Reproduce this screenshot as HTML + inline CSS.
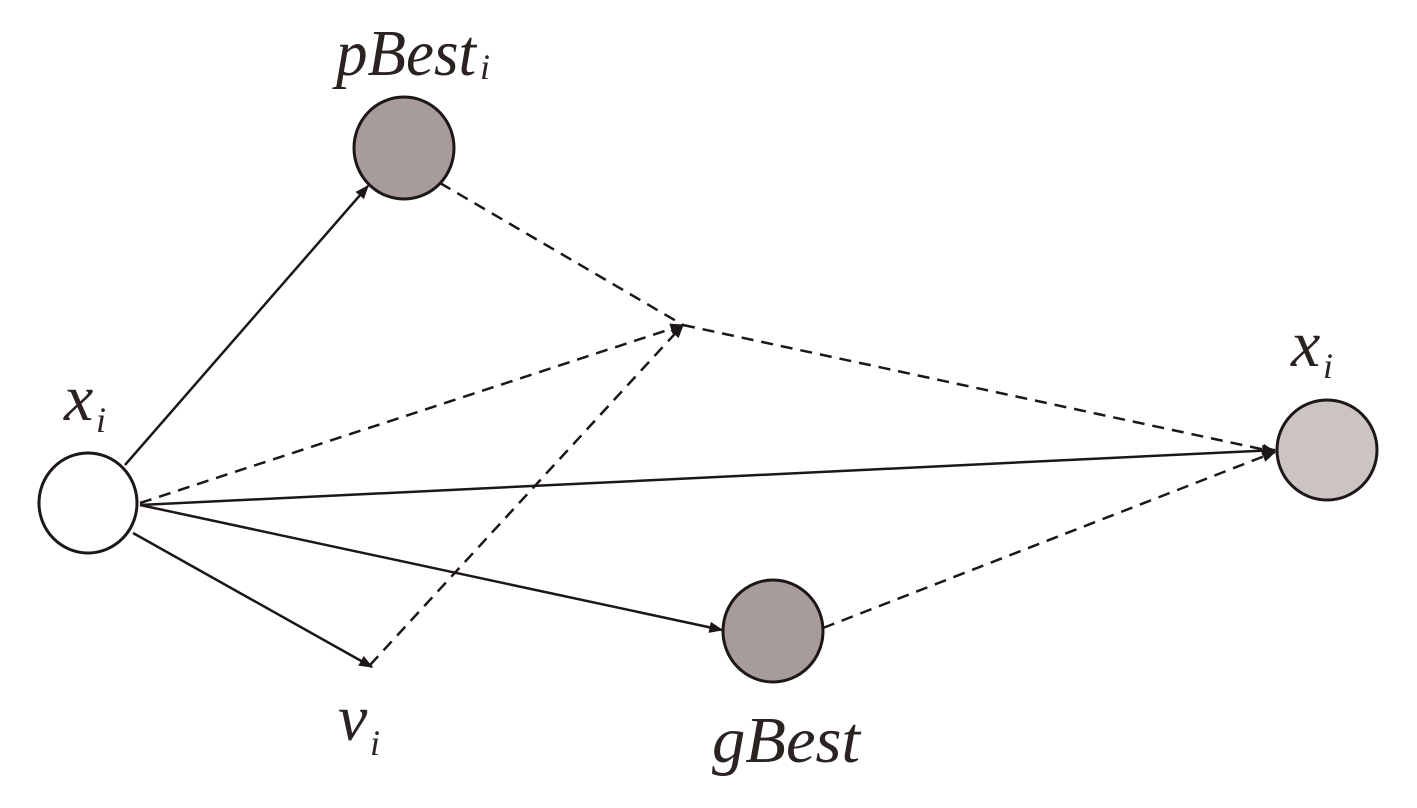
<!DOCTYPE html>
<html><head><style>html,body{margin:0;padding:0;background:#fff}svg{display:block}</style></head>
<body>
<svg width="1417" height="808" viewBox="0 0 1417 808" xmlns="http://www.w3.org/2000/svg">
<defs>
<marker id="b" viewBox="0 0 10 10" refX="9" refY="5" markerWidth="16" markerHeight="14" markerUnits="userSpaceOnUse" orient="auto">
<path d="M0,1 L10,5 L0,9 z" fill="#1d1817"/></marker>
</defs>
<g stroke="#1d1817" stroke-width="2.5" fill="none">
<line x1="125" y1="465" x2="368" y2="186" marker-end="url(#b)"/>
<line x1="140" y1="505" x2="1275" y2="450" marker-end="url(#b)"/>
<line x1="140" y1="505" x2="722" y2="630" marker-end="url(#b)"/>
<line x1="133" y1="533" x2="372" y2="667" marker-end="url(#b)"/>
<g stroke-dasharray="12,8">
<line x1="440" y1="183" x2="683" y2="325"/>
<line x1="140" y1="503" x2="683" y2="325" marker-end="url(#b)"/>
<line x1="370" y1="665" x2="683" y2="325" marker-end="url(#b)"/>
<line x1="683" y1="325" x2="1275" y2="452" marker-end="url(#b)"/>
<line x1="823" y1="628" x2="1275" y2="452" marker-end="url(#b)"/>
</g>
</g>
<g stroke="#1d1817" stroke-width="3">
<ellipse cx="88" cy="503" rx="49" ry="50" fill="#fff"/>
<ellipse cx="404" cy="148" rx="50" ry="51" fill="#a89c9a"/>
<ellipse cx="773" cy="631" rx="50" ry="51" fill="#a89c9a"/>
<ellipse cx="1327" cy="450" rx="50" ry="50" fill="#cbc4c3"/>
</g>
<g font-family="Liberation Serif, serif" font-style="italic" fill="#2a2322">
<text x="336" y="75" font-size="66" textLength="140" lengthAdjust="spacingAndGlyphs">pBest</text>
<text x="480" y="79" font-size="36">i</text>
<text x="64" y="420" font-size="66">x</text><text x="96" y="432" font-size="36">i</text>
<text x="1291" y="366" font-size="66">x</text><text x="1323" y="378" font-size="36">i</text>
<text x="338" y="740" font-size="66">v</text><text x="370" y="755" font-size="36">i</text>
<text x="712" y="762" font-size="66" textLength="148" lengthAdjust="spacingAndGlyphs">gBest</text>
</g>
</svg>
</body></html>
